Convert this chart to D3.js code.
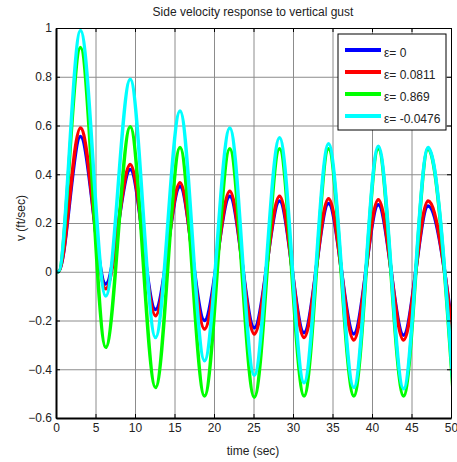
<!DOCTYPE html>
<html>
<head>
<meta charset="utf-8">
<title>Side velocity response to vertical gust</title>
<script src="https://cdn.jsdelivr.net/npm/d3@7"></script>
<style>
  body { margin: 0; background: #fff; }
  svg { display: block; font-family: "Liberation Sans", Arial, sans-serif; }
  .grid line { stroke: #8c8c8c; stroke-width: 1; }
  .grid path { display: none; }
  .axis text { font-size: 12px; fill: #222; }
  .axis line, .axis path { stroke: #000; }
</style>
</head>
<body>
<div id="chart"></div>
<script>
// time of the turning points (sec)
var times = [0, 0.3, 3.1, 6.3, 9.4, 12.6, 15.7, 18.8, 22.0, 25.1, 28.3, 31.4, 34.5, 37.7, 40.8, 44.0, 47.1, 50.3];
// v (ft/sec) at those times, one list per epsilon
var vEps0     = [0, 0, 0.555, -0.05, 0.42, -0.155, 0.35, -0.20, 0.31, -0.23, 0.29, -0.25, 0.28, -0.255, 0.275, -0.26, 0.27, -0.265];
var vEps0811  = [0, 0, 0.59, -0.07, 0.44, -0.18, 0.365, -0.235, 0.33, -0.255, 0.31, -0.27, 0.30, -0.28, 0.295, -0.28, 0.29, -0.285];
var vEps869   = [0, 0, 0.92, -0.31, 0.595, -0.475, 0.51, -0.51, 0.505, -0.515, 0.505, -0.51, 0.505, -0.51, 0.505, -0.51, 0.505, -0.51];
var vEpsNeg   = [0, 0, 0.99, -0.10, 0.79, -0.27, 0.66, -0.365, 0.59, -0.425, 0.55, -0.455, 0.525, -0.475, 0.515, -0.48, 0.51, -0.485];
var labels = ["ε= 0", "ε= 0.0811", "ε= 0.869", "ε= -0.0476"];
var colors = ["#0000ff", "#ff0000", "#00ff00", "#00ffff"];
var xTicks = [0, 5, 10, 15, 20, 25, 30, 35, 40, 45, 50];
var yTicks = [-0.6, -0.4, -0.2, 0, 0.2, 0.4, 0.6, 0.8, 1];

var W = 457, H = 462;
var pLeft = 56, pRight = 451, pTop = 28, pBottom = 418;

var svg = d3.select("#chart").append("svg").attr("width", W).attr("height", H);

var x = d3.scaleLinear().domain([0, 50]).range([pLeft, pRight]);
var y = d3.scaleLinear().domain([-0.6, 1]).range([pBottom, pTop]);

svg.append("defs").append("clipPath").attr("id", "plotclip")
  .append("rect").attr("x", pLeft).attr("y", pTop - 5).attr("width", pRight - pLeft).attr("height", pBottom - pTop + 10);

// grid
svg.append("g").attr("class", "grid")
  .attr("transform", "translate(0," + pBottom + ")")
  .call(d3.axisBottom(x).tickValues(xTicks.slice(1, -1)).tickSize(-(pBottom - pTop)).tickFormat(""));
svg.append("g").attr("class", "grid")
  .attr("transform", "translate(" + pLeft + ",0)")
  .call(d3.axisLeft(y).tickValues(yTicks.slice(1, -1)).tickSize(-(pRight - pLeft)).tickFormat(""));

// lines
var series = [vEps0, vEps0811, vEps869, vEpsNeg];
var line = d3.line()
  .x(function(d, i) { return x(times[i]); })
  .y(function(d) { return y(d); })
  .curve(d3.curveMonotoneX);

svg.append("g").attr("clip-path", "url(#plotclip)")
  .selectAll("path").data(series).enter().append("path")
  .attr("d", line)
  .attr("fill", "none")
  .attr("stroke", function(d, i) { return colors[i]; })
  .attr("stroke-width", 3.5)
  .attr("stroke-linejoin", "round");

// axes, ticks pointing inward
svg.append("g").attr("class", "axis")
  .attr("transform", "translate(0," + pBottom + ")")
  .call(d3.axisBottom(x).tickValues(xTicks).tickSize(-4).tickPadding(5).tickSizeOuter(0))
  .call(function(g) { g.select(".domain").attr("stroke-width", 2); });
svg.append("g").attr("class", "axis")
  .attr("transform", "translate(" + pLeft + ",0)")
  .call(d3.axisLeft(y).tickValues(yTicks).tickSize(-4).tickPadding(4).tickSizeOuter(0)
    .tickFormat(function(d) { return d3.format("")(+d.toFixed(1)); }))
  .call(function(g) { g.select(".domain").attr("stroke-width", 2); });
svg.append("g").attr("class", "axis")
  .attr("transform", "translate(0," + pTop + ")")
  .call(d3.axisTop(x).tickValues(xTicks).tickSize(-4).tickFormat("").tickSizeOuter(0));
svg.append("g").attr("class", "axis")
  .attr("transform", "translate(" + pRight + ",0)")
  .call(d3.axisRight(y).tickValues(yTicks).tickSize(-4).tickFormat("").tickSizeOuter(0));

// titles
svg.append("text").attr("x", 253).attr("y", 16).attr("text-anchor", "middle")
  .attr("font-size", 12).attr("fill", "#222").text("Side velocity response to vertical gust");
svg.append("text").attr("x", 253).attr("y", 455).attr("text-anchor", "middle")
  .attr("font-size", 12).attr("fill", "#222").text("time (sec)");
svg.append("text").attr("transform", "translate(25," + 218 + ") rotate(-90)").attr("text-anchor", "middle")
  .attr("font-size", 12).attr("fill", "#222").text("v (ft/sec)");

// legend
var lg = svg.append("g").attr("transform", "translate(338,34)");
lg.append("rect").attr("width", 108).attr("height", 96).attr("fill", "#fff").attr("stroke", "#000");
var items = lg.selectAll(".item").data(labels).enter().append("g")
  .attr("transform", function(d, i) { return "translate(0," + (16 + i * 22) + ")"; });
items.append("line").attr("x1", 7).attr("x2", 43)
  .attr("stroke", function(d, i) { return colors[i]; }).attr("stroke-width", 4);
items.append("text").attr("x", 46).attr("y", 7).attr("font-size", 12).attr("fill", "#222")
  .text(function(d) { return d; });
</script>
</body>
</html>
